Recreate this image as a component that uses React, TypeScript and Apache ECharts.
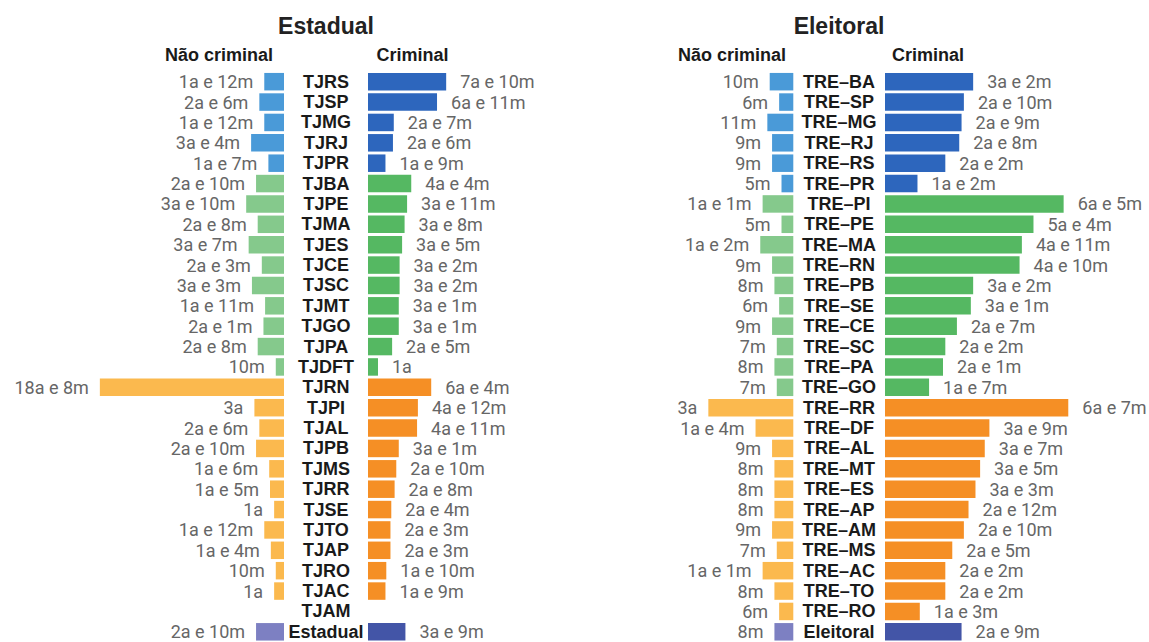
import React, { useEffect, useRef } from "react";
import * as echarts from "echarts";

// ---- Data ----
const estadualCategories = [
  "TJRS", "TJSP", "TJMG", "TJRJ", "TJPR",
  "TJBA", "TJPE", "TJMA", "TJES", "TJCE", "TJSC", "TJMT", "TJGO", "TJPA", "TJDFT",
  "TJRN", "TJPI", "TJAL", "TJPB", "TJMS", "TJRR", "TJSE", "TJTO", "TJAP", "TJRO", "TJAC", "TJAM",
  "Estadual",
];
const estadualNaoCriminal = [
  "1a e 12m", "2a e 6m", "1a e 12m", "3a e 4m", "1a e 7m",
  "2a e 10m", "3a e 10m", "2a e 8m", "3a e 7m", "2a e 3m", "3a e 3m", "1a e 11m", "2a e 1m", "2a e 8m", "10m",
  "18a e 8m", "3a", "2a e 6m", "2a e 10m", "1a e 6m", "1a e 5m", "1a", "1a e 12m", "1a e 4m", "10m", "1a", "",
  "2a e 10m",
];
const estadualCriminal = [
  "7a e 10m", "6a e 11m", "2a e 7m", "2a e 6m", "1a e 9m",
  "4a e 4m", "3a e 11m", "3a e 8m", "3a e 5m", "3a e 2m", "3a e 2m", "3a e 1m", "3a e 1m", "2a e 5m", "1a",
  "6a e 4m", "4a e 12m", "4a e 11m", "3a e 1m", "2a e 10m", "2a e 8m", "2a e 4m", "2a e 3m", "2a e 3m", "1a e 10m", "1a e 9m", "",
  "3a e 9m",
];
const estadualGroupSizes = [5, 10, 12, 1];

const eleitoralCategories = [
  "TRE–BA", "TRE–SP", "TRE–MG", "TRE–RJ", "TRE–RS", "TRE–PR",
  "TRE–PI", "TRE–PE", "TRE–MA", "TRE–RN", "TRE–PB", "TRE–SE", "TRE–CE", "TRE–SC", "TRE–PA", "TRE–GO",
  "TRE–RR", "TRE–DF", "TRE–AL", "TRE–MT", "TRE–ES", "TRE–AP", "TRE–AM", "TRE–MS", "TRE–AC", "TRE–TO", "TRE–RO",
  "Eleitoral",
];
const eleitoralNaoCriminal = [
  "10m", "6m", "11m", "9m", "9m", "5m",
  "1a e 1m", "5m", "1a e 2m", "9m", "8m", "6m", "9m", "7m", "8m", "7m",
  "3a", "1a e 4m", "9m", "8m", "8m", "8m", "9m", "7m", "1a e 1m", "8m", "6m",
  "8m",
];
const eleitoralCriminal = [
  "3a e 2m", "2a e 10m", "2a e 9m", "2a e 8m", "2a e 2m", "1a e 2m",
  "6a e 5m", "5a e 4m", "4a e 11m", "4a e 10m", "3a e 2m", "3a e 1m", "2a e 7m", "2a e 2m", "2a e 1m", "1a e 7m",
  "6a e 7m", "3a e 9m", "3a e 7m", "3a e 5m", "3a e 3m", "2a e 12m", "2a e 10m", "2a e 5m", "2a e 2m", "2a e 2m", "1a e 3m",
  "2a e 9m",
];
const eleitoralGroupSizes = [6, 10, 11, 1];

// palette per group: [não criminal, criminal]
const groupColors = [
  ["#4a9ad8", "#2d66bd"],
  ["#85c98c", "#55b862"],
  ["#fbb94e", "#f58f25"],
  ["#7d80c2", "#4355a7"],
];

function toMonths(s: string): number | null {
  if (!s) return null;
  let total = 0;
  const y = s.match(/(\d+)a/);
  const m = s.match(/(\d+)m/);
  if (y) total += parseInt(y[1], 10) * 12;
  if (m) total += parseInt(m[1], 10);
  return total;
}

function groupIndexList(sizes: number[]): number[] {
  const out: number[] = [];
  sizes.forEach((n, g) => {
    for (let i = 0; i < n; i++) out.push(g);
  });
  return out;
}

export default function App() {
  const ref = useRef<HTMLDivElement>(null);

  useEffect(() => {
    if (!ref.current) return;
    const chart = echarts.init(ref.current, undefined, { renderer: "svg" });

    const top = 71.5;
    const height = 572.6;
    const valueFont = {
      fontFamily: "Roboto",
      fontSize: 18,
      color: "#666666",
    };
    const catFont = {
      fontFamily: "Liberation Sans",
      fontSize: 18,
      fontWeight: "bold" as const,
      color: "#1a1a1a",
    };

    const estGroups = groupIndexList(estadualGroupSizes);
    const eleGroups = groupIndexList(eleitoralGroupSizes);

    const mkData = (labels: string[], groups: number[], side: number) =>
      labels.map((l, i) => ({
        value: toMonths(l),
        itemStyle: { color: groupColors[groups[i]][side] },
      }));

    const grids = [
      { left: 86.7, width: 197.3, top, height },
      { left: 368, width: 99.8, top, height },
      { left: 698.9, width: 94.4, top, height },
      { left: 885, width: 185.6, top, height },
    ];

    const xAxes = [
      { max: 240, inverse: true },
      { max: 120, inverse: false },
      { max: 40, inverse: true },
      { max: 80, inverse: false },
    ].map((a, i) => ({
      type: "value" as const,
      gridIndex: i,
      min: 0,
      max: a.max,
      inverse: a.inverse,
      show: false,
    }));

    const yAxes = [
      { cats: estadualCategories, show: false, margin: 0 },
      { cats: estadualCategories, show: true, margin: 42 },
      { cats: eleitoralCategories, show: false, margin: 0 },
      { cats: eleitoralCategories, show: true, margin: 46 },
    ].map((a, i) => ({
      type: "category" as const,
      gridIndex: i,
      data: a.cats,
      inverse: true,
      axisLine: { show: false },
      axisTick: { show: false },
      splitLine: { show: false },
      axisLabel: {
        show: a.show,
        margin: a.margin,
        align: "center" as const,
        interval: 0,
        padding: [4, 0, 0, 0],
        ...catFont,
      },
    }));

    const mkSeries = (
      idx: number,
      labels: string[],
      groups: number[],
      side: number
    ) => ({
      type: "bar" as const,
      xAxisIndex: idx,
      yAxisIndex: idx,
      barWidth: 17.5,
      data: mkData(labels, groups, side),
      label: {
        show: true,
        position: side === 0 ? ("left" as const) : ("right" as const),
        distance: side === 0 ? 11 : 14,
        formatter: (p: any) => labels[p.dataIndex],
        ...valueFont,
      },
    });

    const titleStyle = {
      fontFamily: "Liberation Sans",
      fontSize: 23,
      fontWeight: "bold" as const,
      fill: "#222222",
    };
    const headStyle = {
      fontFamily: "Liberation Sans",
      fontSize: 18,
      fontWeight: "bold" as const,
      fill: "#1a1a1a",
    };
    const txt = (x: number, y: number, text: string, style: any) => ({
      type: "text" as const,
      x,
      y,
      style: {
        text,
        align: "center",
        verticalAlign: "middle",
        ...style,
      },
    });

    chart.setOption({
      animation: false,
      backgroundColor: "#ffffff",
      grid: grids,
      xAxis: xAxes,
      yAxis: yAxes,
      series: [
        mkSeries(0, estadualNaoCriminal, estGroups, 0),
        mkSeries(1, estadualCriminal, estGroups, 1),
        mkSeries(2, eleitoralNaoCriminal, eleGroups, 0),
        mkSeries(3, eleitoralCriminal, eleGroups, 1),
      ],
      graphic: [
        txt(326, 26, "Estadual", titleStyle),
        txt(839, 26, "Eleitoral", titleStyle),
        txt(219, 55, "Não criminal", headStyle),
        txt(412.5, 55, "Criminal", headStyle),
        txt(732, 55, "Não criminal", headStyle),
        txt(928, 55, "Criminal", headStyle),
      ],
    });

    return () => chart.dispose();
  }, []);

  return (
    <div
      ref={ref}
      style={{ position: "fixed", left: 0, top: 0, width: 1149, height: 642 }}
    />
  );
}
